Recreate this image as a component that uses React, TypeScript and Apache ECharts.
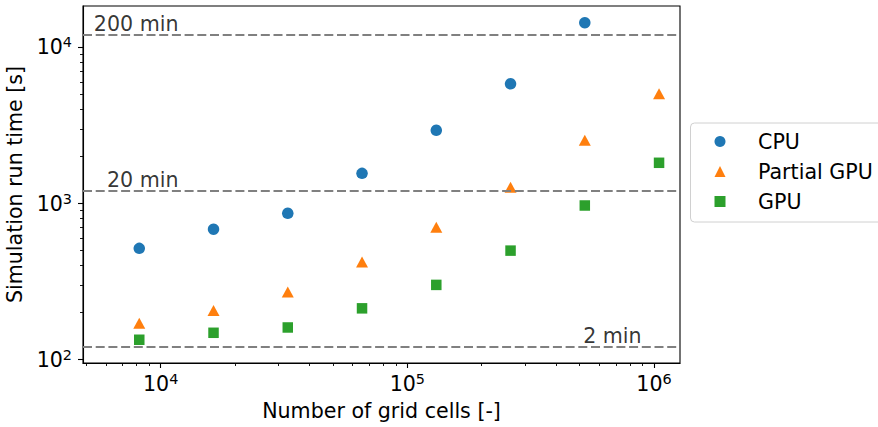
import React, { useEffect, useRef } from "react";
import * as echarts from "echarts";

// ---- data ----
const gridCells = [8192, 16384, 32768, 65536, 131072, 262144, 524288, 1048576];
const cpuTimes: (number | null)[] = [516, 684, 865, 1560, 2944, 5850, 14390, null];
const partialGpuTimes = [171, 206, 271, 422, 704, 1270, 2540, 5050];
const gpuTimes = [134, 148.5, 160.6, 213, 301, 499, 971, 1823];

const seriesNames = ["CPU", "Partial GPU", "GPU"];

// reference lines (seconds) with their annotation
const refSeconds = [12000, 1200, 120];
const refLabels = ["200 min", "20 min", "2 min"];
const refLabelAnchorCells = [11820, 11820, 891000];

// axis ranges and ticks
const xRange = [4845, 1.275e6];
const yRange = [95.1, 18420];
const xMajorTicks = [1e4, 1e5, 1e6];
const yMajorTicks = [1e2, 1e3, 1e4];
const minorMultipliers = [2, 3, 4, 5, 6, 7, 8, 9];

const FONT = "DejaVu Sans";
const FS = 20.6;
const L = (v: number) => Math.log10(v);

function minorTicks(range: number[]): number[] {
  const out: number[] = [];
  for (let e = 0; e <= 7; e++) {
    for (const m of minorMultipliers) {
      const v = m * Math.pow(10, e);
      if (v >= range[0] && v <= range[1]) out.push(L(v));
    }
  }
  return out;
}

const supLabel = (v: number) => `10{sup|${Math.round(v)}}`;

function majorAxis(
  range: number[],
  ticks: number[],
  position: string,
  name: string,
  nameGap: number,
  margin: number
) {
  return {
    type: "value",
    position,
    min: L(range[0]),
    max: L(range[1]),
    name,
    nameLocation: "middle",
    nameGap,
    nameTextStyle: { fontSize: FS, fontFamily: FONT, color: "#000" },
    axisLine: { show: true, onZero: false, lineStyle: { color: "#000", width: 1.1 } },
    axisTick: {
      show: true,
      inside: false,
      length: 5,
      lineStyle: { color: "#000", width: 1.1 },
      customValues: ticks.map(L),
    },
    axisLabel: {
      show: true,
      customValues: ticks.map(L),
      formatter: supLabel,
      margin,
      color: "#000",
      fontSize: FS,
      fontFamily: FONT,
      lineHeight: 24,
      rich: {
        sup: {
          fontSize: 14.4,
          lineHeight: 14,
          fontFamily: FONT,
          color: "#000",
          padding: [0, 0, 10, 0],
        },
      },
    },
    splitLine: { show: false },
    minorTick: { show: false },
  };
}

function minorAxis(range: number[], position: string) {
  return {
    type: "value",
    position,
    offset: 0,
    min: L(range[0]),
    max: L(range[1]),
    axisLine: { show: false, onZero: false },
    axisTick: {
      show: true,
      inside: false,
      length: 3,
      lineStyle: { color: "#000", width: 0.9 },
      customValues: minorTicks(range),
    },
    axisLabel: { show: false },
    splitLine: { show: false },
  };
}

export default function App() {
  const ref = useRef<HTMLDivElement>(null);

  useEffect(() => {
    if (!ref.current) return;
    const chart = echarts.init(ref.current, undefined, { renderer: "svg" });

    const toPoints = (vals: (number | null)[]) =>
      gridCells
        .map((x, i) => (vals[i] == null ? null : [L(x), L(vals[i] as number)]))
        .filter((p) => p !== null);

    const option: any = {
      animation: false,
      backgroundColor: "#fff",
      textStyle: { fontFamily: FONT },
      grid: {
        left: 83,
        right: 198,
        top: 6,
        bottom: 64,
        show: true,
        borderColor: "#000",
        borderWidth: 1.1,
        backgroundColor: "transparent",
        containLabel: false,
        outerBoundsMode: "none",
      },
      legend: {
        data: seriesNames,
        orient: "vertical",
        left: 690.5,
        top: 123,
        itemWidth: 11,
        itemHeight: 11,
        itemGap: 9,
        padding: [8, 200, 10, 24],
        borderColor: "#d0d0d0",
        borderWidth: 1,
        borderRadius: 4,
        backgroundColor: "#fff",
        itemStyle: { opacity: 1 },
        textStyle: {
          fontSize: FS,
          fontFamily: FONT,
          color: "#000",
          lineHeight: 20.5,
          padding: [0, 0, 0, 27.5],
        },
      },
      xAxis: [
        majorAxis(xRange, xMajorTicks, "bottom", "Number of grid cells [-]", 36, 9),
        minorAxis(xRange, "bottom"),
      ],
      yAxis: [
        majorAxis(yRange, yMajorTicks, "left", "Simulation run time [s]", 53, 11),
        minorAxis(yRange, "left"),
      ],
      series: [
        {
          type: "scatter",
          name: "refs",
          z: 2,
          silent: true,
          symbolSize: 0,
          data: refSeconds.map((s, i) => ({
            value: [L(refLabelAnchorCells[i]), L(s)],
          })),
          label: {
            show: true,
            position: "top",
            align: "right",
            distance: 1,
            formatter: (p: any) => refLabels[p.dataIndex],
            fontSize: FS,
            fontFamily: FONT,
            color: "#000",
            lineHeight: 20,
          },
          markLine: {
            silent: true,
            symbol: ["none", "none"],
            label: { show: false },
            lineStyle: { color: "#808080", width: 2.1, type: [9, 3.7], opacity: 1 },
            emphasis: { disabled: true },
            data: refSeconds.map((s) => ({ yAxis: L(s) })),
          },
        },
        {
          type: "scatter",
          name: seriesNames[0],
          z: 3,
          symbol: "circle",
          symbolSize: 11.5,
          itemStyle: { color: "#1f77b4", opacity: 1 },
          data: toPoints(cpuTimes),
        },
        {
          type: "scatter",
          name: seriesNames[1],
          z: 3,
          symbol: "triangle",
          symbolSize: [12, 11],
          itemStyle: { color: "#ff7f0e", opacity: 1 },
          data: toPoints(partialGpuTimes),
        },
        {
          type: "scatter",
          name: seriesNames[2],
          z: 3,
          symbol: "rect",
          symbolSize: 10.5,
          itemStyle: { color: "#2ca02c", opacity: 1 },
          data: toPoints(gpuTimes),
        },
      ],
    };

    chart.setOption(option);
    return () => chart.dispose();
  }, []);

  return (
    <div
      ref={ref}
      style={{ position: "absolute", left: 0, top: 0, width: 878, height: 427 }}
    />
  );
}
